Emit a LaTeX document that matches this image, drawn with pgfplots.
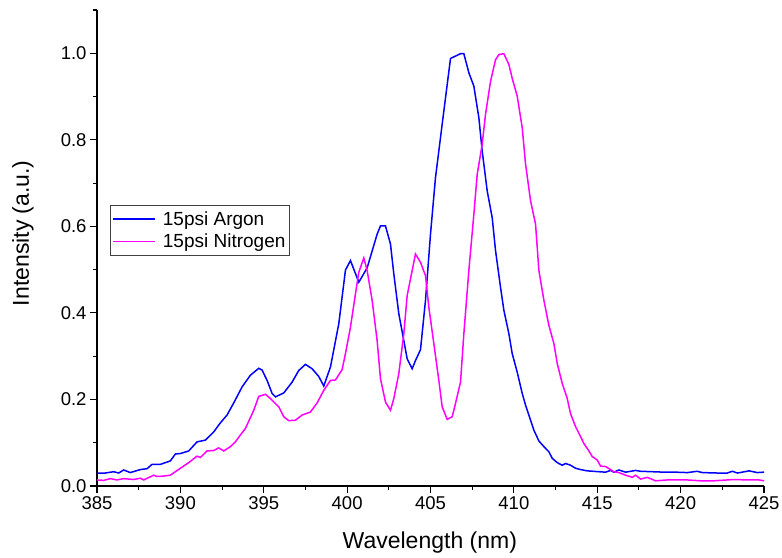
\documentclass[border=0pt]{standalone}
\usepackage{pgfplots}
\pgfplotsset{compat=1.18}
\usepackage{fontspec}
\setmainfont{Liberation Sans}
\definecolor{oblue}{RGB}{0,0,255}
\definecolor{omag}{RGB}{255,0,255}
\begin{document}
\begin{tikzpicture}
\useasboundingbox (-97bp,-72bp) rectangle (685bp,486bp);
\begin{axis}[
  at={(0,0)}, anchor=south west,
  width=667bp, height=476bp, scale only axis,
  xmin=385, xmax=425, ymin=0, ymax=1.1,
  xtick={385,390,...,425},
  ytick={0,0.2,0.4,0.6,0.8,1.0},
  minor xtick={387.5,392.5,...,422.5},
  minor ytick={0.1,0.3,0.5,0.7,0.9,1.1},
  axis x line*=bottom, axis y line*=left,
  axis line style={line width=1.1bp, -},
  tick align=outside,
  major tick length=7bp, minor tick length=4bp,
  every tick/.style={black, line width=1.1bp},
  tick label style={font=\fontsize{18.5bp}{22bp}\selectfont},
  /pgf/number format/assume math mode=true,
  yticklabel style={/pgf/number format/fixed, /pgf/number format/fixed zerofill, /pgf/number format/precision=1},
  xticklabel style={/pgf/number format/1000 sep={}},
  xlabel={Wavelength (nm)}, ylabel={Intensity (a.u.)},
  label style={font=\fontsize{23bp}{27bp}\selectfont},
  xlabel style={at={(axis description cs:0.499,-0.1303)}, anchor=base},
  ylabel style={at={(axis description cs:-0.102,0.531)}, anchor=base},
  legend style={at={(axis description cs:0.0195,0.59)}, anchor=north west,
    draw=black!75, line width=0.8bp, inner xsep=2bp, inner ysep=4bp,
    font=\fontsize{19bp}{22bp}\selectfont,
    nodes={inner sep=2bp}, row sep=3bp,
    /tikz/every odd column/.append style={column sep=5bp}},
  legend cell align=left,
  legend image code/.code={\draw[#1, line width=1.5bp] (0bp,0bp) -- (42bp,0bp);},
]
\addplot[oblue, line width=1.5bp] coordinates {
(385.0,0.030)(385.5,0.030)(386.0,0.033)(386.3,0.030)(386.6,0.037)(387.0,0.031)
(387.6,0.038)(388.0,0.040)(388.3,0.050)(388.8,0.050)(389.4,0.058)(389.7,0.074)
(390.0,0.075)(390.5,0.081)(391.0,0.102)(391.5,0.106)(392.0,0.125)(392.4,0.146)
(392.8,0.164)(393.2,0.192)(393.7,0.229)(394.2,0.256)(394.7,0.272)(394.9,0.268)
(395.2,0.244)(395.5,0.214)(395.7,0.206)(396.2,0.215)(396.7,0.240)(397.1,0.267)
(397.5,0.281)(397.9,0.271)(398.3,0.253)(398.6,0.231)(399.0,0.275)(399.5,0.375)
(399.9,0.499)(400.2,0.521)(400.7,0.471)(401.2,0.504)(401.8,0.582)(402.0,0.601)
(402.3,0.601)(402.6,0.559)(402.8,0.490)(403.1,0.398)(403.4,0.336)(403.6,0.294)
(403.9,0.271)(404.1,0.290)(404.4,0.315)(404.7,0.429)(405.0,0.582)(405.3,0.713)
(405.7,0.836)(405.9,0.897)(406.2,0.988)(406.8,0.999)(407.0,0.999)(407.3,0.955)
(407.6,0.924)(407.9,0.851)(408.1,0.774)(408.4,0.682)(408.7,0.620)(408.9,0.544)
(409.2,0.459)(409.4,0.406)(409.7,0.352)(409.9,0.306)(410.2,0.263)(410.5,0.214)
(410.7,0.187)(411.0,0.152)(411.2,0.129)(411.5,0.104)(411.8,0.091)(412.1,0.079)
(412.3,0.064)(412.6,0.054)(412.9,0.048)(413.1,0.052)(413.4,0.048)(413.7,0.041)
(414.0,0.038)(414.4,0.035)(415.1,0.033)(415.5,0.032)(415.8,0.036)(416.0,0.032)
(416.3,0.037)(416.7,0.032)(417.3,0.036)(417.6,0.034)(418.3,0.033)(419.0,0.032)
(419.7,0.032)(420.4,0.031)(421.0,0.034)(421.3,0.031)(422.2,0.030)(422.8,0.030)
(423.1,0.034)(423.4,0.030)(423.7,0.032)(424.1,0.035)(424.6,0.031)(425.0,0.032)
};
\addlegendentry{15psi Argon}
\addplot[omag, line width=1.5bp] coordinates {
(385.0,0.014)(385.4,0.013)(385.8,0.017)(386.2,0.014)(386.6,0.017)(387.2,0.015)
(387.6,0.018)(387.8,0.014)(388.4,0.025)(388.6,0.022)(389.0,0.023)(389.4,0.025)
(390.0,0.041)(390.5,0.054)(391.0,0.069)(391.2,0.066)(391.6,0.081)(392.0,0.082)
(392.3,0.088)(392.6,0.081)(393.0,0.091)(393.3,0.102)(393.6,0.118)(393.9,0.133)
(394.4,0.175)(394.7,0.207)(395.1,0.212)(395.4,0.202)(395.9,0.183)(396.2,0.160)
(396.5,0.151)(396.9,0.152)(397.3,0.164)(397.8,0.171)(398.2,0.192)(398.6,0.221)
(399.0,0.244)(399.3,0.245)(399.7,0.269)(399.9,0.306)(400.2,0.367)(400.5,0.444)
(400.7,0.494)(401.0,0.527)(401.2,0.498)(401.5,0.429)(401.8,0.336)(402.0,0.248)
(402.3,0.194)(402.6,0.175)(402.8,0.202)(403.1,0.260)(403.4,0.352)(403.6,0.440)
(403.9,0.498)(404.1,0.536)(404.4,0.517)(404.7,0.486)(404.9,0.413)(405.2,0.329)
(405.5,0.244)(405.7,0.183)(406.0,0.154)(406.3,0.160)(406.5,0.191)(406.8,0.240)
(407.0,0.352)(407.3,0.498)(407.6,0.628)(407.8,0.720)(408.1,0.790)(408.3,0.859)
(408.6,0.935)(408.9,0.985)(409.1,0.997)(409.4,0.999)(409.7,0.974)(409.9,0.942)
(410.2,0.901)(410.5,0.828)(410.7,0.744)(411.0,0.659)(411.3,0.605)(411.5,0.498)
(411.8,0.429)(412.1,0.371)(412.4,0.329)(412.6,0.283)(412.9,0.237)(413.2,0.202)
(413.4,0.167)(413.7,0.137)(414.0,0.114)(414.2,0.098)(414.5,0.081)(414.7,0.068)
(415.0,0.060)(415.2,0.046)(415.5,0.045)(416.0,0.033)(416.3,0.031)(416.7,0.025)
(417.1,0.020)(417.3,0.025)(417.6,0.016)(418.0,0.020)(418.5,0.012)(419.2,0.014)
(420.4,0.014)(421.2,0.012)(422.0,0.012)(423.2,0.015)(424.0,0.014)(424.7,0.014)
(425.0,0.012)
};
\addlegendentry{15psi Nitrogen}
\end{axis}
\end{tikzpicture}
\end{document}
